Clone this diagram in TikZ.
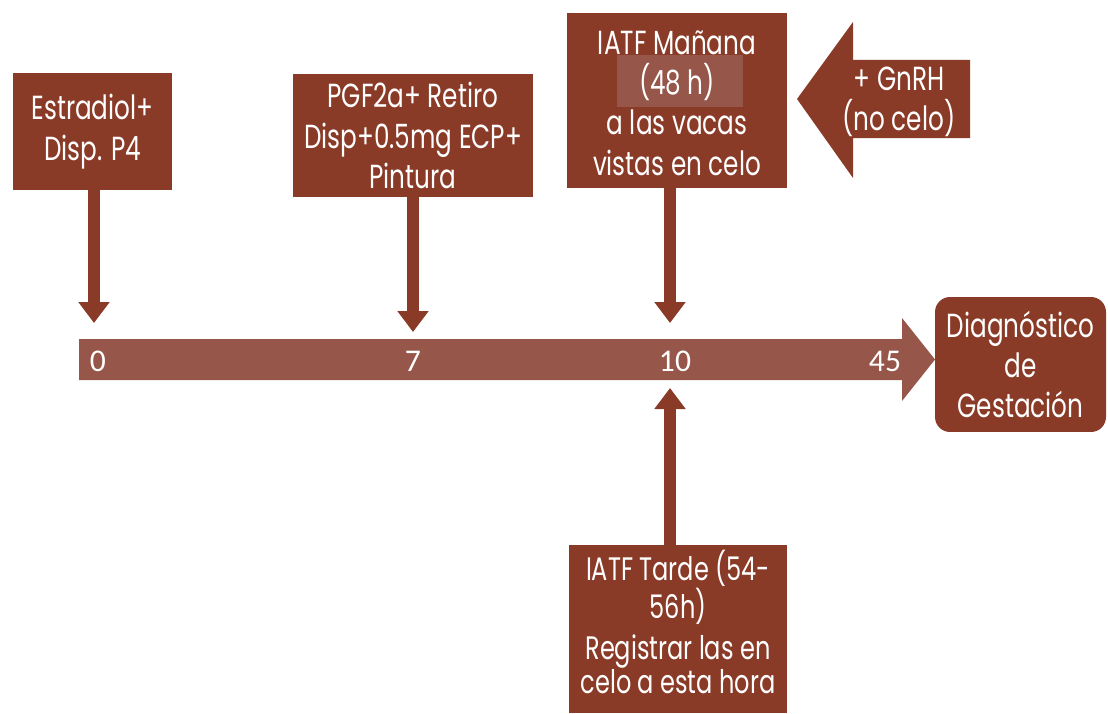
\documentclass[tikz,border=0pt]{standalone}
\usepackage{fontspec}
\setmainfont{Poppins}[FakeStretch=0.74]
\newfontfamily\numfont{Carlito}
\usetikzlibrary{arrows.meta,positioning}

\definecolor{boxred}{RGB}{138,59,39}
\definecolor{barred}{RGB}{150,86,73}

\tikzset{
  box/.style={fill=boxred, text=white, align=center, inner sep=0pt,
    font=\fontsize{19}{23}\selectfont},
  boxtext/.style={text=white, align=center, inner sep=0pt,
    font=\fontsize{19}{23}\selectfont},
  drop/.style={draw=boxred, line width=0.24cm,
    -{Triangle[width=0.6cm,length=0.42cm]}},
  tick/.style={text=white, inner sep=0pt, font=\numfont\fontsize{18}{20}\selectfont},
}

\begin{document}
\begin{tikzpicture}[x=0.02cm,y=-0.02cm]
  \useasboundingbox (0,0) rectangle (1108,713);

  % time line
  \fill[barred] (79,339) -- (902,339) -- (902,318) -- (935,359.5)
    -- (902,401) -- (902,380) -- (79,380) -- cycle;
  \coordinate (t0) at (94,323);
  \coordinate (t7) at (413,332);
  \coordinate (t10) at (670,323);
  \coordinate (t10b) at (670,388);
  \node[tick] (d0) at (98,361) {0};
  \node[tick] (d7) at (413,361) {7};
  \node[tick] (d10) at (675,361) {10};
  \node[tick] (d45) at (885,361) {45};

  % boxes
  \node[box, minimum width=3.18cm, minimum height=2.34cm] (estr) at (92.5,131.5)
    {Estradiol+\\Disp. P4};
  \node[box, minimum width=4.8cm, minimum height=2.46cm] (pgf) at (413,135.5)
    {PGF2a+ Retiro\\Disp+0.5mg ECP+\\Pintura};
  \node[box, minimum width=4.4cm, minimum height=3.5cm] (iatfm) at (677,100.5) {};
  \node[fill=barred, inner sep=0pt, minimum width=2.52cm, minimum height=1.04cm]
    (hl) at (680,81) {};
  \node[boxtext] (iatfmtxt) at (677,103)
    {IATF Mañana\\(48 h)\\a las vacas\\vistas en celo};
  \node[box, minimum width=4.36cm, minimum height=3.36cm] (tarde) at (678,629) {};
  \node[boxtext, font=\fontsize{18.5}{19.5}\selectfont] (tardetxt) at (678,622)
    {IATF Tarde (54-\\56h)\\[0.12cm]Registrar las en\\celo a esta hora};
  \node[box, rounded corners=0.3cm, minimum width=3.42cm, minimum height=2.7cm]
    (diag) at (1020.5,364.5) {Diagnóstico\\de\\Gestación};

  % GnRH arrow
  \fill[boxred] (970,60) -- (853,60) -- (853,22) -- (797,99)
    -- (853,178) -- (853,138) -- (970,138) -- cycle;
  \node[boxtext] (gnrh) at (899,102) {+ GnRH\\(no celo)};

  % arrows to the time line
  \draw[drop] (estr.south -| t0) -- (t0);
  \draw[drop] (pgf.south -| t7) -- (t7);
  \draw[drop] (iatfm.south -| t10) -- (t10);
  \draw[drop] (tarde.north -| t10b) -- (t10b);
\end{tikzpicture}
\end{document}
